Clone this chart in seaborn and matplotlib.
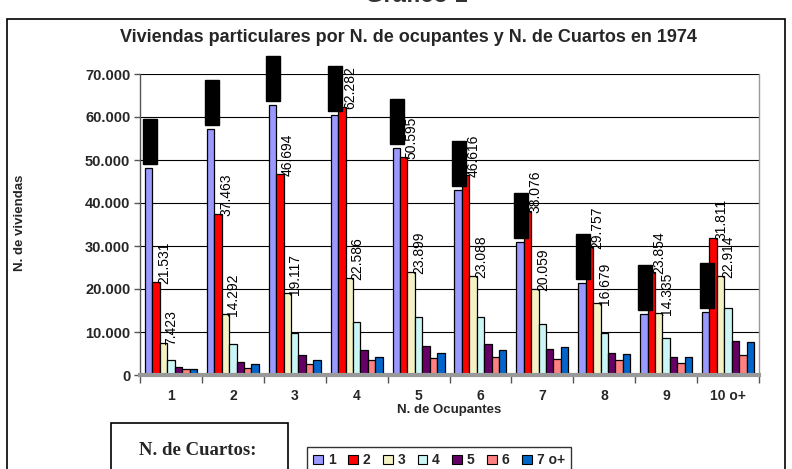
import numpy as np
import pandas as pd
import matplotlib
matplotlib.use("Agg")
import matplotlib.pyplot as plt
import seaborn as sns
from matplotlib.patches import Rectangle, Patch

# ---------------- data ----------------
ocupantes = ["1", "2", "3", "4", "5", "6", "7", "8", "9", "10 o+"]
cuartos = ["1", "2", "3", "4", "5", "6", "7 o+"]
cuartos_1 = [48200, 57300, 62700, 60400, 52800, 43000, 31000, 21300, 14300, 14600]
cuartos_2 = [21531, 37463, 46694, 62282, 50595, 46616, 38076, 29757, 23854, 31811]
cuartos_3 = [7423, 14292, 19117, 22586, 23899, 23088, 20059, 16679, 14335, 22914]
cuartos_4 = [3600, 7100, 9800, 12400, 13500, 13400, 11800, 9800, 8500, 15500]
cuartos_5 = [1800, 3100, 4600, 5800, 6700, 7100, 6000, 5200, 4300, 8000]
cuartos_6 = [1300, 1700, 2600, 3400, 4000, 4100, 3700, 3400, 2800, 4600]
cuartos_7 = [1500, 2500, 3400, 4300, 5200, 5800, 6500, 4800, 4100, 7700]
y_ticks = [0, 10000, 20000, 30000, 40000, 50000, 60000, 70000]

series = [cuartos_1, cuartos_2, cuartos_3, cuartos_4, cuartos_5, cuartos_6, cuartos_7]
colores = ["#9999FF", "#FF0000", "#F4F2C4", "#CCF6F6", "#660066", "#FF8080", "#0066CC"]

rows = []
for c, vals in zip(cuartos, series):
    for o, v in zip(ocupantes, vals):
        rows.append({"ocupantes": o, "cuartos": c, "viviendas": v})
df = pd.DataFrame(rows)

def fmt(v):
    return f"{v:,.0f}".replace(",", ".")

# ---------------- figure ----------------
sns.set_theme(style="white")
plt.rcParams["font.family"] = ["Liberation Sans", "DejaVu Sans"]

W, H = 792, 469
fig = plt.figure(figsize=(W / 100, H / 100), dpi=100)
ax = fig.add_axes([140 / W, (H - 375) / H, (759 - 140) / W, (375 - 74) / H])

sns.barplot(data=df, x="ocupantes", y="viviendas", hue="cuartos",
            order=ocupantes, hue_order=cuartos, palette=colores,
            width=0.84, gap=0, saturation=1, errorbar=None,
            edgecolor="black", linewidth=0.9, legend=False, ax=ax)

ax.set_xlim(-0.5, len(ocupantes) - 0.5)
ax.set_ylim(y_ticks[0], y_ticks[-1])

# grid / spines
ax.grid(axis="y", color="black", linewidth=0.8)
ax.grid(axis="x", visible=False)
ax.set_axisbelow(True)
ax.spines["top"].set_visible(False)
ax.spines["left"].set_color("#555555")
ax.spines["left"].set_linewidth(1.0)
ax.spines["right"].set_color("#999999")
ax.spines["right"].set_linewidth(1.0)
ax.spines["bottom"].set_color("#999999")
ax.spines["bottom"].set_linewidth(3.0)

# x ticks: boundaries as major ticks, labels at centers
ax.set_xticks(np.arange(-0.5, len(ocupantes), 1.0))
ax.set_xticklabels([""] * (len(ocupantes) + 1))
ax.set_xticks(np.arange(len(ocupantes)), minor=True)
ax.set_xticklabels(ocupantes, minor=True, fontweight="bold", fontsize=10)
ax.tick_params(axis="x", which="major", length=6, width=1, color="#555555",
               direction="out", bottom=True)
ax.tick_params(axis="x", which="minor", length=0, pad=10, bottom=True)

ax.set_yticks(y_ticks)
ax.set_yticklabels([fmt(v) for v in y_ticks], fontweight="bold", fontsize=10.5)
ax.tick_params(axis="y", length=4, width=1, color="#555555", direction="out",
               left=True, pad=3)
ax.set_xlabel("")
ax.set_ylabel("")

# value labels for series 2 and 3
for idx in (1, 2):
    cont = ax.containers[idx]
    for bar, v in zip(cont, series[idx]):
        xc = bar.get_x() + bar.get_width() / 2
        ax.annotate(fmt(v), (xc, bar.get_height()), xytext=(8, -2),
                    textcoords="offset pixels", rotation=90,
                    ha="center", va="bottom", fontsize=10, color="black")

# series 1 labels are covered by black boxes in the reference
ax_w_px = (759 - 140)
ax_h_px = (375 - 74)
dx = len(ocupantes) / ax_w_px
dy = (y_ticks[-1] - y_ticks[0]) / ax_h_px
for bar in ax.containers[0]:
    xc = bar.get_x() + bar.get_width() / 2
    top = bar.get_height()
    r = Rectangle((xc - 6 * dx, top + 4 * dy), 14 * dx, 45 * dy,
                  facecolor="black", edgecolor="black", clip_on=False, zorder=5)
    ax.add_patch(r)

# ---------------- texts ----------------
# page heading, cut off at the top edge as in the reference
fig.text(416 / W, (H - 2) / H, "Gráfico 1", ha="center", va="baseline",
         fontsize=17, fontweight="bold", color="#333333")
fig.text(408 / W, (H - 37) / H,
         "Viviendas particulares por N. de ocupantes y N. de Cuartos en 1974",
         ha="center", va="center", fontsize=13, fontweight="bold")
fig.text(20 / W, (H - 223) / H, "N. de viviendas", rotation=90,
         ha="center", va="center", fontsize=9.5, fontweight="bold")
fig.text(449 / W, (H - 410) / H, "N. de Ocupantes",
         ha="center", va="center", fontsize=9.5, fontweight="bold")

# outer chart border
fig.patches.append(Rectangle((7 / W, -0.05), (785 - 7) / W, (H - 19) / H + 0.05,
                             transform=fig.transFigure, fill=False,
                             edgecolor="black", linewidth=1.2))

# "N. de Cuartos:" box
fig.patches.append(Rectangle((111 / W, -0.05), (288 - 111) / W, (H - 423) / H + 0.05,
                             transform=fig.transFigure, fill=False,
                             edgecolor="black", linewidth=1.2))
fig.text(198 / W, (H - 450) / H, "N. de Cuartos:", ha="center", va="center",
         fontsize=13.5, fontweight="bold",
         family=["Liberation Serif", "DejaVu Serif"])

# legend
handles = [Patch(facecolor=c, edgecolor="black", linewidth=0.8) for c in colores]
leg = fig.legend(handles, cuartos, loc="upper left",
                 bbox_to_anchor=(307 / W, (H - 447) / H), ncol=7,
                 frameon=True, fancybox=False, edgecolor="black",
                 handlelength=0.7, handleheight=0.7, handletextpad=0.35,
                 columnspacing=0.9, borderpad=0.45, borderaxespad=0,
                 prop={"weight": "bold", "size": 10})
leg.get_frame().set_linewidth(1.0)

fig.savefig("out.png", dpi=100)
